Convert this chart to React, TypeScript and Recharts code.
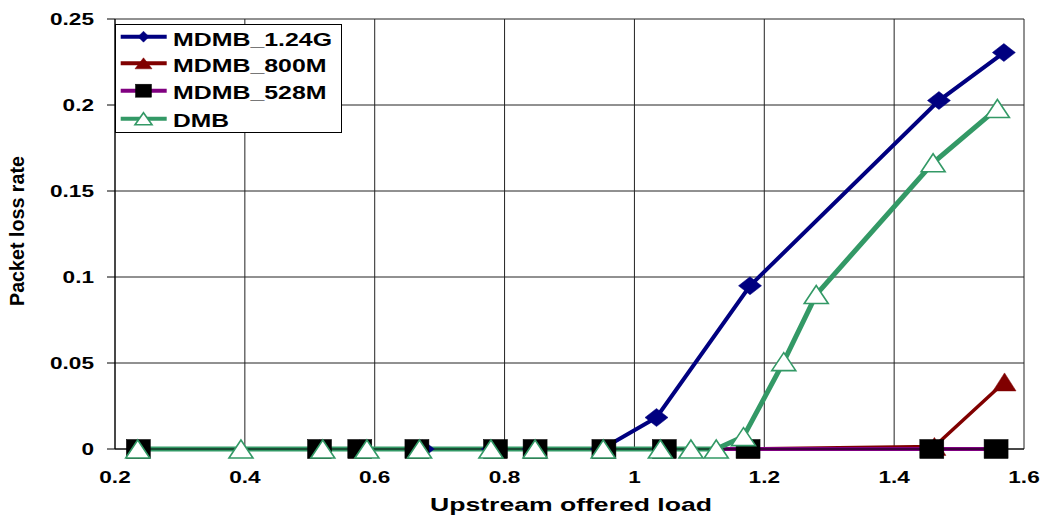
import React from 'react';
import { LineChart, Line, XAxis, YAxis, CartesianGrid, Legend } from 'recharts';

// ---- data ----
const xTicks = [0.2, 0.4, 0.6, 0.8, 1, 1.2, 1.4, 1.6];
const yTicks = [0, 0.05, 0.1, 0.15, 0.2, 0.25];

const x1240 = [0.236, 0.515, 0.577, 0.674, 0.782, 0.845, 0.95, 1.034, 1.178, 1.469, 1.569];
const y1240 = [0, 0, 0, 0, 0, 0, 0, 0.0183, 0.0949, 0.2026, 0.2305];

const x800 = [0.236, 0.515, 0.577, 0.665, 0.786, 0.847, 0.953, 1.046, 1.175, 1.462, 1.57];
const y800 = [0, 0, 0, 0, 0, 0, 0, 0, 0, 0.0015, 0.039];

const x528 = [0.236, 0.515, 0.577, 0.665, 0.786, 0.847, 0.953, 1.046, 1.175, 1.458, 1.557];
const y528 = [0, 0, 0, 0, 0, 0, 0, 0, 0, 0, 0];

const xDMB = [0.235, 0.394, 0.52, 0.588, 0.669, 0.779, 0.847, 0.952, 1.04, 1.087, 1.126, 1.168, 1.23, 1.28, 1.46, 1.559];
const yDMB = [0, 0, 0, 0, 0, 0, 0, 0, 0, 0, 0, 0.0072, 0.0508, 0.0898, 0.1664, 0.198];

const seriesNames = ['MDMB_1.24G', 'MDMB_800M', 'MDMB_528M', 'DMB'];

const toPts = (xs: number[], ys: number[]) => xs.map((x, i) => ({ x, y: ys[i] }));
const d1240 = toPts(x1240, y1240);
const d800 = toPts(x800, y800);
const d528 = toPts(x528, y528);
const dDMB = toPts(xDMB, yDMB);

const NAVY = '#000080';
const DRED = '#800000';
const PURPLE = '#800080';
const GREEN = '#339966';
const FONT = "'Liberation Sans', Arial, Helvetica, sans-serif";

// ---- markers ----
const diamond = (cx: number, cy: number, w: number, h: number, key?: any) => (
  <path key={key} d={`M${cx - w},${cy} L${cx},${cy - h} L${cx + w},${cy} L${cx},${cy + h} Z`} fill={NAVY} stroke={NAVY} strokeWidth={0.5} />
);
const square = (cx: number, cy: number, w: number, h: number, key?: any) => (
  <rect key={key} x={cx - w} y={cy - h} width={2 * w} height={2 * h} fill="#000" stroke="#000" strokeWidth={0.5} />
);
const triFilled = (cx: number, cy: number, w: number, h: number, key?: any) => (
  <path key={key} d={`M${cx},${cy - h} L${cx + w},${cy + h} L${cx - w},${cy + h} Z`} fill={DRED} stroke={DRED} strokeWidth={0.5} />
);
const triOpen = (cx: number, cy: number, w: number, h: number, key?: any) => (
  <path key={key} d={`M${cx},${cy - h} L${cx + w},${cy + h} L${cx - w},${cy + h} Z`} fill="#fff" stroke={GREEN} strokeWidth={1.6} />
);

const dotDiamond = (p: any) => diamond(p.cx, p.cy, 11.5, 9, `dd-${p.index}`);
const dotSquare = (p: any) => square(p.cx, p.cy, 12, 9.5, `ds-${p.index}`);
const dotTriF = (p: any) => triFilled(p.cx, p.cy, 11.5, 9, `dt-${p.index}`);
const dotTriO = (p: any) => triOpen(p.cx, p.cy, 12, 9, `do-${p.index}`);

// ---- ticks ----
const YTick = (p: any) => (
  <g transform={`translate(94, ${p.y})`}>
    <text transform="scale(1.33,1)" textAnchor="end" dy="6" fontFamily={FONT} fontWeight="bold" fontSize={17} fill="#000">
      {String(p.payload.value)}
    </text>
  </g>
);
const XTick = (p: any) => (
  <g transform={`translate(${p.x}, 483)`}>
    <text transform="scale(1.33,1)" textAnchor="middle" fontFamily={FONT} fontWeight="bold" fontSize={17} fill="#000">
      {String(p.payload.value)}
    </text>
  </g>
);

// ---- legend ----
const legendRows = [
  { name: seriesNames[0], color: NAVY, width: 4, marker: (cx: number, cy: number) => diamond(cx, cy, 5.5, 5.5), len: 159 },
  { name: seriesNames[1], color: DRED, width: 4, marker: (cx: number, cy: number) => triFilled(cx, cy, 8.5, 5.5), len: 153.5 },
  { name: seriesNames[2], color: PURPLE, width: 4, marker: (cx: number, cy: number) => square(cx, cy, 8, 6.5), len: 153.5 },
  { name: seriesNames[3], color: GREEN, width: 4, marker: (cx: number, cy: number) => triOpen(cx, cy, 8.5, 6), len: 56 },
];
const rowCy = [12.7, 39.3, 66.7, 94.7];
const rowBase = [21.7, 48.3, 75, 102.7];

const LegendBox = () => (
  <svg width={227} height={109} style={{ display: 'block' }}>
    <rect x={0.5} y={0.5} width={226} height={108} fill="#fff" stroke="#000" strokeWidth={1} />
    {legendRows.map((r, i) => (
      <g key={r.name}>
        <line x1={5.7} x2={51.7} y1={rowCy[i]} y2={rowCy[i]} stroke={r.color} strokeWidth={r.width} />
        {r.marker(28.5, rowCy[i])}
        <text x={58} y={rowBase[i]} fontFamily={FONT} fontWeight="bold" fontSize={19} fill="#000" textLength={r.len} lengthAdjust="spacingAndGlyphs">
          {r.name}
        </text>
      </g>
    ))}
  </svg>
);

const YTitle = () => (
  <text transform="translate(24,231) rotate(-90)" textAnchor="middle" fontFamily={FONT} fontWeight="bold" fontSize={19.5} fill="#000" textLength={150} lengthAdjust="spacingAndGlyphs">
    Packet loss rate
  </text>
);
const XTitle = () => (
  <text x={571} y={511} textAnchor="middle" fontFamily={FONT} fontWeight="bold" fontSize={18.5} fill="#000" textLength={282} lengthAdjust="spacingAndGlyphs">
    Upstream offered load
  </text>
);

export default function App() {
  return (
    <div style={{ position: 'absolute', left: 0, top: 0, width: 1049, height: 519, background: '#fff' }}>
      <LineChart width={1049} height={519} margin={{ top: 19, right: 25, left: 0, bottom: 0 }}>
        <CartesianGrid stroke="#222" strokeWidth={1} />
        <XAxis
          type="number"
          dataKey="x"
          domain={[0.2, 1.6]}
          ticks={xTicks}
          height={70}
          axisLine={{ stroke: '#000', strokeWidth: 1 }}
          tickLine={false}
          tick={<XTick />}
          label={<XTitle />}
        />
        <YAxis
          type="number"
          domain={[0, 0.25]}
          ticks={yTicks}
          width={115}
          axisLine={{ stroke: '#000', strokeWidth: 1 }}
          tickLine={{ stroke: '#000', strokeWidth: 1 }}
          tickSize={8}
          tick={<YTick />}
          label={<YTitle />}
        />
        <Legend
          layout="vertical"
          align="center"
          verticalAlign="middle"
          wrapperStyle={{ left: 115, top: 24, width: 227, height: 109 }}
          content={() => <LegendBox />}
        />
        <Line data={d1240} dataKey="y" name={seriesNames[0]} type="linear" stroke={NAVY} strokeWidth={4} dot={dotDiamond} activeDot={false} isAnimationActive={false} />
        <Line data={d800} dataKey="y" name={seriesNames[1]} type="linear" stroke={DRED} strokeWidth={3.5} dot={dotTriF} activeDot={false} isAnimationActive={false} />
        <Line data={d528} dataKey="y" name={seriesNames[2]} type="linear" stroke={PURPLE} strokeWidth={4} dot={dotSquare} activeDot={false} isAnimationActive={false} />
        <Line data={dDMB} dataKey="y" name={seriesNames[3]} type="linear" stroke={GREEN} strokeWidth={5} dot={dotTriO} activeDot={false} isAnimationActive={false} />
      </LineChart>
    </div>
  );
}
